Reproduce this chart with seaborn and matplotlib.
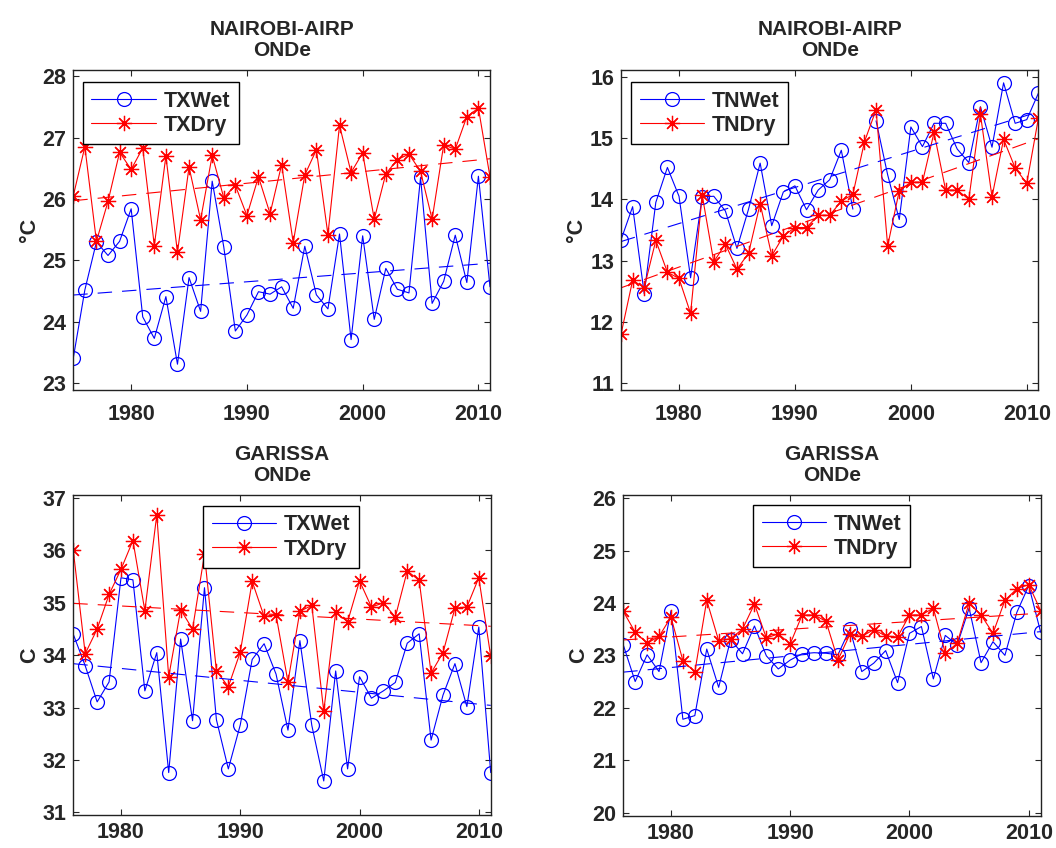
import numpy as np
import pandas as pd
import matplotlib
matplotlib.use("Agg")
import matplotlib.pyplot as plt
import seaborn as sns

# ---- data -------------------------------------------------------------
years_nairobi = list(range(1975, 2012))
years_garissa = list(range(1976, 2012))

nairobi_tx_wet = [23.41, 24.52, 25.30, 25.08, 25.31, 25.84, 24.08, 23.73, 24.41, 23.31,
                  24.72, 24.17, 26.29, 25.22, 23.85, 24.11, 24.49, 24.45, 24.57, 24.22,
                  25.23, 24.44, 24.21, 25.43, 23.71, 25.40, 24.04, 24.87, 24.53, 24.47,
                  26.35, 24.30, 24.66, 25.41, 24.64, 26.37, 24.57]
nairobi_tx_dry = [26.05, 26.85, 25.31, 25.96, 26.76, 26.48, 26.83, 25.24, 26.70, 25.13,
                  26.52, 25.66, 26.71, 26.02, 26.22, 25.73, 26.36, 25.76, 26.56, 25.29,
                  26.39, 26.80, 25.42, 27.20, 26.43, 26.75, 25.67, 26.41, 26.64, 26.73,
                  26.45, 25.67, 26.88, 26.81, 27.34, 27.48, 26.36]
nairobi_tn_wet = [13.34, 13.88, 12.46, 13.95, 14.52, 14.05, 12.72, 14.04, 14.05, 13.81,
                  13.20, 13.84, 14.59, 13.57, 14.12, 14.22, 13.83, 14.15, 14.32, 14.80,
                  13.84, np.nan, 15.28, 14.40, 13.67, 15.18, 14.86, 15.24, 15.24, 14.82,
                  14.60, 15.51, 14.85, 15.90, 15.24, 15.30, 15.73]
nairobi_tn_dry = [11.80, 12.68, 12.56, 13.33, 12.81, 12.71, 12.14, 14.07, 12.98, 13.27,
                  12.86, 13.12, 13.93, 13.08, 13.40, 13.54, 13.54, 13.74, 13.74, 13.97,
                  14.08, 14.94, 15.46, 13.24, 14.14, 14.28, 14.28, 15.09, 14.15, 14.15,
                  14.00, 15.39, 14.04, 14.98, 14.51, 14.26, 15.32]

garissa_tx_wet = [34.40, 33.80, 33.11, 33.49, 35.48, 35.44, 33.32, 34.05, 31.76, 34.31,
                  32.75, 35.29, 32.77, 31.83, 32.67, 33.92, 34.22, 33.64, 32.57, 34.28,
                  32.66, 31.60, 33.70, 31.83, 33.59, 33.18, 33.32, 33.48, 34.23, 34.41,
                  32.38, 33.24, 33.84, 33.02, 34.54, 31.76]
garissa_tx_dry = [36.00, 34.03, 34.50, 35.16, 35.64, 36.19, 34.85, 36.68, 33.59, 34.87,
                  34.50, 35.93, 33.70, 33.40, 34.06, 35.41, 34.74, 34.77, 33.49, 34.84,
                  34.95, 32.93, 34.82, 34.64, 35.42, 34.92, 35.00, 34.73, 35.61, 35.43,
                  33.66, 34.05, 34.90, 34.92, 35.48, 33.98]
garissa_tn_wet = [23.20, 22.50, 23.01, 22.69, 23.85, 21.78, 21.85, 23.12, 22.39, 23.30,
                  23.03, 23.56, 22.99, 22.74, 22.91, 23.03, 23.05, 23.04, 23.01, 23.50,
                  22.69, 22.85, 23.09, 22.48, 23.42, 23.55, 22.55, 23.38, 23.20, 23.90,
                  22.86, 23.26, 23.00, 23.82, 24.33, 23.44]
garissa_tn_dry = [23.84, 23.44, 23.23, 23.36, 23.73, 22.90, 22.68, 24.05, 23.28, 23.32,
                  23.50, 23.98, 23.33, 23.41, 23.22, 23.77, 23.77, 23.65, 22.91, 23.40,
                  23.36, 23.49, 23.37, 23.35, 23.77, 23.77, 23.90, 23.04, 23.23, 24.00,
                  23.77, 23.42, 24.05, 24.27, 24.35, 23.85]

titles = ["NAIROBI-AIRP\nONDe", "NAIROBI-AIRP\nONDe", "GARISSA\nONDe", "GARISSA\nONDe"]
ylabels = ["°C", "°C", "C", "C"]
xticks = [1980, 1990, 2000, 2010]

# ---- style ------------------------------------------------------------
sns.set_style("ticks")
plt.rcParams["font.family"] = ["Liberation Sans", "DejaVu Sans"]
plt.rcParams["font.weight"] = "bold"
plt.rcParams["xtick.direction"] = "in"
plt.rcParams["ytick.direction"] = "in"

FS = 15.5
ASTERISK = (8, 2, 0)

fig = plt.figure(figsize=(10.56, 8.48), dpi=100)

# axes rectangles [left, bottom, width, height] in figure fractions
rects = [
    [0.0694, 0.5401, 0.3946, 0.3774],
    [0.5881, 0.5401, 0.3952, 0.3774],
    [0.0694, 0.0389, 0.3953, 0.3774],
    [0.5902, 0.0381, 0.3953, 0.3782],
]

panels = [
    dict(x=years_nairobi, wet=nairobi_tx_wet, dry=nairobi_tx_dry, labels=("TXWet", "TXDry"),
         ylim=(22.89, 28.1), yticks=range(23, 29), xlim=(1975, 2011), leg=(0.023, 0.9625),
         xpad=10),
    dict(x=years_nairobi, wet=nairobi_tn_wet, dry=nairobi_tn_dry, labels=("TNWet", "TNDry"),
         ylim=(10.89, 16.11), yticks=range(11, 17), xlim=(1975, 2011), leg=(0.024, 0.9625),
         xpad=10),
    dict(x=years_garissa, wet=garissa_tx_wet, dry=garissa_tx_dry, labels=("TXWet", "TXDry"),
         ylim=(30.95, 37.06), yticks=range(31, 38), xlim=(1976, 2011), leg=(0.311, 0.966),
         xpad=5),
    dict(x=years_garissa, wet=garissa_tn_wet, dry=garissa_tn_dry, labels=("TNWet", "TNDry"),
         ylim=(19.94, 26.06), yticks=range(20, 27), xlim=(1976, 2011), leg=(0.311, 0.969),
         xpad=5),
]

for i, p in enumerate(panels):
    ax = fig.add_axes(rects[i])
    df = pd.DataFrame({"year": p["x"], "wet": p["wet"], "dry": p["dry"]})

    ax.plot(df["year"], df["wet"], color="blue", lw=0.8, marker="o", ms=10,
            mfc="none", mec="blue", mew=0.9, label=p["labels"][0])
    ax.plot(df["year"], df["dry"], color="red", lw=0.8, marker=ASTERISK, ms=11,
            mec="red", mew=0.9, label=p["labels"][1])

    # linear trends
    for col, c in (("wet", "blue"), ("dry", "red")):
        sns.regplot(data=df, x="year", y=col, ax=ax, scatter=False, ci=None,
                    truncate=True,
                    line_kws=dict(color=c, lw=0.8, ls=(0, (13, 9))))

    ax.set_xlim(*p["xlim"])
    ax.set_ylim(*p["ylim"])
    ax.set_xticks(xticks)
    ax.set_yticks(list(p["yticks"]))
    ax.tick_params(axis="both", which="both", top=True, right=True, length=4,
                   width=0.8, labelsize=FS)
    ax.tick_params(axis="x", pad=p["xpad"])
    ax.tick_params(axis="y", pad=5)
    for lab in ax.get_xticklabels() + ax.get_yticklabels():
        lab.set_fontweight("bold")
    for s in ax.spines.values():
        s.set_visible(True)
        s.set_linewidth(1.0)
        s.set_color("#222222")

    ax.set_xlabel("")
    ax.set_ylabel(ylabels[i], fontsize=FS, fontweight="bold", labelpad=2)
    ax.set_title(titles[i], fontsize=15, fontweight="bold", pad=10, linespacing=1.15)

    handles, labels = ax.get_legend_handles_labels()
    leg = ax.legend(handles[:2], labels[:2], loc="upper left",
                    bbox_to_anchor=p["leg"], fontsize=FS, frameon=True,
                    fancybox=False, edgecolor="black", framealpha=1,
                    handlelength=3.0, handletextpad=0.35, borderpad=0.4,
                    labelspacing=0.15, borderaxespad=0)
    leg.get_frame().set_linewidth(1.0)
    for t in leg.get_texts():
        t.set_fontweight("bold")

fig.savefig("out.png", dpi=100)
